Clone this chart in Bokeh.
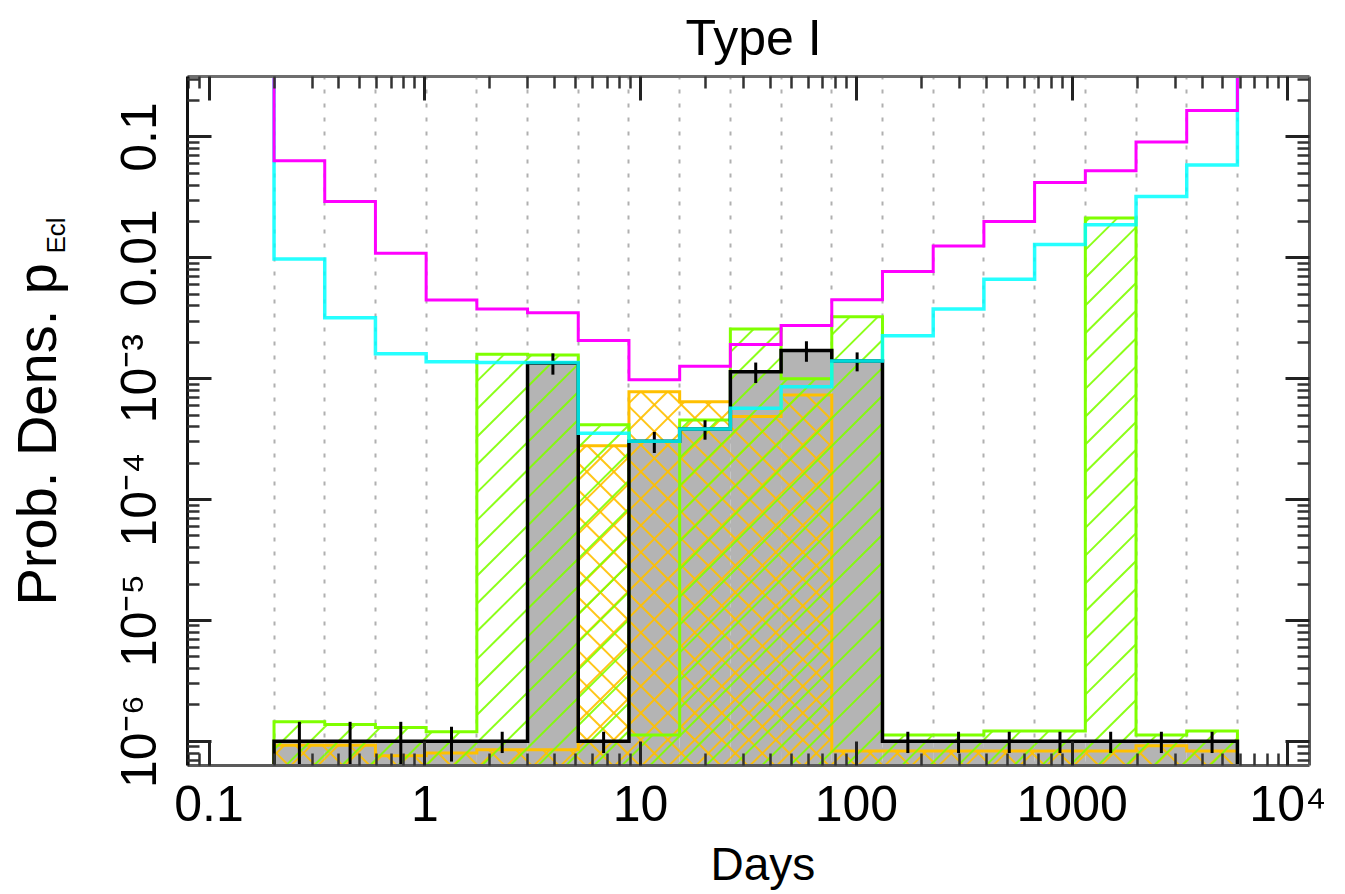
import math
import numpy as np
from bokeh.plotting import figure
from bokeh.models import LogAxis, FixedTicker, CustomJSTickFormatter, Range1d, Title
from bokeh.embed import file_html
from bokeh.resources import INLINE

# ---------------- data ----------------
bin_edges = [0.2, 0.3436, 0.5902, 1.014, 1.742, 2.992, 5.140, 8.831, 15.17, 26.06,
             44.77, 76.91, 132.1, 227.0, 389.9, 669.9, 1151.0, 1977.0, 3396.0, 5834.0]

magenta_vals = [0.0635, 0.0292, 0.0109, 0.00447, 0.00377, 0.00352, 0.00207, 9.8e-4,
                1.27e-3, 1.92e-3, 2.75e-3, 4.5e-3, 7.7e-3, 0.0125, 0.020, 0.0419,
                0.0526, 0.091, 0.1656]

cyan_vals = [0.0098, 3.2e-3, 1.61e-3, 1.38e-3, 1.36e-3, 1.36e-3, 3.54e-4, 3.03e-4,
             3.83e-4, 5.69e-4, 8.57e-4, 1.40e-3, 2.27e-3, 3.77e-3, 6.65e-3, 0.0129,
             0.0188, 0.0321, 0.0585]

green_vals = [1.45e-6, 1.38e-6, 1.30e-6, 1.20e-6, 1.59e-3, 1.57e-3, 4.15e-4, 1.13e-6,
              4.56e-4, 2.58e-3, 1.0e-3, 3.26e-3, 1.13e-6, 1.13e-6, 1.22e-6, 1.22e-6,
              0.0213, 1.13e-6, 1.22e-6]

orange_vals = [9.3e-7, 9.3e-7, 7.6e-7, 8.0e-7, 8.5e-7, 8.5e-7, 2.79e-4, 7.8e-4,
               6.45e-4, 4.86e-4, 7.33e-4, 8.3e-7, 8.3e-7, 8.3e-7, 8.3e-7, 8.3e-7,
               8.3e-7, 9.2e-7, 8.3e-7]

gray_vals = [1e-6, 1e-6, 1e-6, 1e-6, 1e-6, 1.35e-3, 1e-6, 3.03e-4, 3.83e-4, 1.14e-3,
             1.71e-3, 1.40e-3, 1e-6, 1e-6, 1e-6, 1e-6, 1e-6, 1e-6, 1e-6]

gray_errs = [0.45e-6, 0.45e-6, 0.45e-6, 0.32e-6, 0.2e-6, 0.27e-3, 0.2e-6, 0.6e-4,
             0.7e-4, 0.22e-3, 0.33e-3, 0.25e-3, 0.2e-6, 0.2e-6, 0.2e-6, 0.2e-6,
             0.2e-6, 0.2e-6, 0.2e-6]

x_ticks = [0.1, 1, 10, 100, 1000, 10000]
x_tick_labels = ["0.1", "1", "10", "100", "1000", "10\u2074"]
y_ticks = [1e-6, 1e-5, 1e-4, 1e-3, 0.01, 0.1]
y_tick_labels = ["10\u207b\u2076", "10\u207b\u2075", "10\u207b\u2074", "10\u207b\u00b3", "0.01", "0.1"]

title_text = "Type I"
x_label = "Days"
y_label_main = "Prob. Dens. p"
y_label_sub = "Ecl"

FONT = "Liberation Sans"

# ---------------- layout constants ----------------
W, H = 1345, 894
BL, BR, BT, BB = 187, 36, 74, 126
XLOG = (-1.1, 4.1)
YLOG = (-6.2, -0.5)
PX = (W - BL - BR) / (XLOG[1] - XLOG[0])   # px per decade, x
PY = (H - BT - BB) / (YLOG[1] - YLOG[0])   # px per decade, y
K = PX / PY                                 # 45 degree slope in log-log units

# ---------------- helpers ----------------
e = np.array(bin_edges)
left = e[:-1]
right = e[1:]
centers = np.sqrt(left * right)
FLOOR = 1e-9
CEIL = 10.0


def step_xy(vals, end):
    v = np.array(vals, dtype=float)
    xs = np.repeat(e, 2)
    ys = np.concatenate([[end], np.repeat(v, 2), [end]])
    return xs, ys


def hatch_lines(tops, spacing_px, direction):
    """45-degree hatch lines clipped to each histogram bar (in log space)."""
    dc = K * spacing_px / PX
    lo = YLOG[0] - 0.1
    xs_out, ys_out = [], []
    for a, b, t in zip(np.log10(left), np.log10(right), np.log10(np.array(tops, dtype=float))):
        hi = t
        if hi <= lo:
            continue
        if direction > 0:
            cmin, cmax = lo - K * b, hi - K * a
        else:
            cmin, cmax = lo + K * a, hi + K * b
        for n in range(math.ceil(cmin / dc), math.floor(cmax / dc) + 1):
            c = n * dc
            if direction > 0:
                x0, x1 = max(a, (lo - c) / K), min(b, (hi - c) / K)
                y0, y1 = K * x0 + c, K * x1 + c
            else:
                x0, x1 = max(a, (c - hi) / K), min(b, (c - lo) / K)
                y0, y1 = -K * x0 + c, -K * x1 + c
            if x1 - x0 > 1e-6:
                xs_out.append([10 ** x0, 10 ** x1])
                ys_out.append([10 ** y0, 10 ** y1])
    return xs_out, ys_out


x_minor = [m * 10.0 ** d for d in range(-2, 5) for m in range(2, 10)]
y_minor = [m * 10.0 ** d for d in range(-8, 0) for m in range(2, 10)]

# ---------------- figure ----------------
p = figure(width=W, height=H, x_axis_type="log", y_axis_type="log",
           x_range=Range1d(10 ** XLOG[0], 10 ** XLOG[1]),
           y_range=Range1d(10 ** YLOG[0], 10 ** YLOG[1]),
           output_backend="svg", toolbar_location=None, title=title_text,
           min_border_left=BL, min_border_right=BR, min_border_top=BT, min_border_bottom=BB)
p.background_fill_color = "white"
p.border_fill_color = "white"
p.outline_line_color = None
p.ygrid.visible = False
p.xgrid.ticker = FixedTicker(ticks=bin_edges)
p.xgrid.grid_line_color = "#b0b0b0"
p.xgrid.grid_line_dash = "4 10"
p.xgrid.grid_line_width = 2

p.title.text_font = FONT
p.title.text_font_size = "50px"
p.title.text_font_style = "normal"
p.title.text_color = "black"
p.title.align = "left"
p.title.offset = 498
p.title.vertical_align = "top"
p.title.standoff = 18

# gray histogram
p.quad(left=left, right=right, bottom=FLOOR, top=gray_vals,
       fill_color="#b4b4b4", line_color=None)

# orange cross-hatched histogram
for d in (1, -1):
    hx, hy = hatch_lines(orange_vals, 27, d)
    p.multi_line(hx, hy, line_color="#ffc000", line_width=2, line_alpha=0.9)
ox, oy = step_xy(orange_vals, FLOOR)
p.line(ox, oy, line_color="#ffc000", line_width=3, line_join="miter")

# green hatched histogram
hx, hy = hatch_lines(green_vals, 28, 1)
p.multi_line(hx, hy, line_color="#7fff00", line_width=2, line_alpha=0.9)
gx, gy = step_xy(green_vals, FLOOR)
p.line(gx, gy, line_color="#7fff00", line_width=3, line_join="miter")

# black outline of gray histogram + error bars
bx, by = step_xy(gray_vals, FLOOR)
p.line(bx, by, line_color="black", line_width=3.5, line_join="miter")
gv = np.array(gray_vals)
ge = np.array(gray_errs)
p.segment(x0=centers, y0=gv - ge, x1=centers, y1=gv + ge, line_color="black", line_width=3)

# cyan and magenta step lines
cx, cy = step_xy(cyan_vals, CEIL)
p.line(cx, cy, line_color="#00ffff", line_width=3.5, line_alpha=0.85, line_join="miter")
mx, my = step_xy(magenta_vals, CEIL)
p.line(mx, my, line_color="#ff00ff", line_width=3, line_join="miter")

# ---------------- axes ----------------
def style_axis(ax, color):
    ax.axis_line_color = color
    ax.axis_line_width = 3
    ax.major_tick_in = 24
    ax.major_tick_out = 0
    ax.minor_tick_in = 12
    ax.minor_tick_out = 0
    ax.major_tick_line_color = "#222222"
    ax.minor_tick_line_color = "#333333"
    ax.major_tick_line_width = 3
    ax.minor_tick_line_width = 2.5
    ax.major_label_text_font = FONT
    ax.major_label_text_color = "black"


xa = p.xaxis[0]
xa.ticker = FixedTicker(ticks=x_ticks, minor_ticks=x_minor)
xa.major_label_overrides = dict(zip(x_ticks, x_tick_labels))
style_axis(xa, "#5a5a5a")
xa.major_label_text_font_size = "50px"
xa.major_label_standoff = 10

ya = p.yaxis[0]
ya.ticker = FixedTicker(ticks=y_ticks, minor_ticks=y_minor)
ya.major_label_overrides = dict(zip(y_ticks, y_tick_labels))
style_axis(ya, "#111111")
ya.major_label_text_font_size = "50px"
ya.major_label_orientation = "vertical"
ya.major_label_standoff = 20
# invisible spacer label so the axis title sits at the reference position
ya.axis_label = " "
ya.axis_label_text_font_size = "20px"
ya.axis_label_standoff = 16
ya.axis_label_text_color = "white"

top = LogAxis(ticker=FixedTicker(ticks=x_ticks, minor_ticks=x_minor),
              formatter=CustomJSTickFormatter(code="return ''"))
style_axis(top, "#6e6e6e")
top.major_label_text_font_size = "1px"
top.major_label_standoff = 0
p.add_layout(top, "above")

rgt = LogAxis(ticker=FixedTicker(ticks=y_ticks, minor_ticks=y_minor),
              formatter=CustomJSTickFormatter(code="return ''"))
style_axis(rgt, "#5a5a5a")
rgt.major_label_text_font_size = "1px"
rgt.major_label_standoff = 0
p.add_layout(rgt, "right")

# ---------------- axis titles ----------------
t_days = Title(text=x_label, align="left", offset=523, vertical_align="top", standoff=6,
               text_font=FONT, text_font_size="46px", text_font_style="normal",
               text_color="black")
p.add_layout(t_days, "below")

t_main = Title(text=y_label_main, align="left", offset=160, vertical_align="bottom",
               standoff=0, text_font=FONT, text_font_size="56px",
               text_font_style="normal", text_color="black")
p.add_layout(t_main, "left")

t_sub = Title(text=y_label_sub, align="left", offset=512, vertical_align="bottom",
              standoff=-136, text_font=FONT, text_font_size="26px",
              text_font_style="normal", text_color="black")
p.add_layout(t_sub, "left")

open("out.html", "w").write(file_html(p, INLINE))
